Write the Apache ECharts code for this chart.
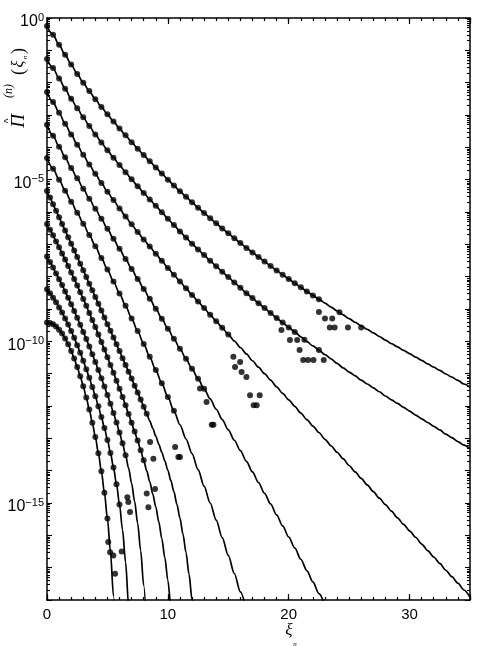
<!DOCTYPE html>
<html>
<head>
<meta charset="utf-8">
<script src="https://cdn.jsdelivr.net/npm/echarts@6/dist/echarts.min.js"></script>
<style>
    html, body { margin: 0; padding: 0; background: #fff; }
    #container { width: 477px; height: 647px; }
</style>
</head>
<body>
<div id="container"></div>
<script>
var c1 = [-0.25,-0.52,-0.83,-1.14,-1.44,-1.73,-2.0,-2.26,-2.51,-2.75,-2.98,
    -3.2,-3.42,-3.63,-3.84,-4.04,-4.24,-4.43,-4.62,-4.81,-5.0,
    -5.18,-5.36,-5.53,-5.7,-5.87,-6.03,-6.19,-6.35,-6.51,-6.66,
    -6.81,-6.96,-7.11,-7.25,-7.39,-7.53,-7.67,-7.81,-7.94,-8.07,
    -8.2,-8.33,-8.46,-8.58,-8.7,-8.82,-8.94,-9.06,-9.18,-9.3,
    -9.41,-9.52,-9.63,-9.74,-9.85,-9.96,-10.07,-10.17,-10.28,-10.38,
    -10.49,-10.59,-10.7,-10.8,-10.9,-11.01,-11.11,-11.21,-11.32,-11.42];
var c2 = [-1.27,-1.55,-1.87,-2.19,-2.5,-2.79,-3.07,-3.34,-3.6,-3.85,-4.09,
    -4.32,-4.55,-4.77,-4.99,-5.2,-5.41,-5.61,-5.81,-6.01,-6.21,
    -6.4,-6.6,-6.79,-6.98,-7.16,-7.33,-7.51,-7.68,-7.85,-8.01,
    -8.18,-8.34,-8.51,-8.66,-8.82,-8.97,-9.12,-9.28,-9.42,-9.57,
    -9.71,-9.86,-10.01,-10.14,-10.27,-10.41,-10.54,-10.68,-10.82,-10.95,
    -11.07,-11.2,-11.32,-11.44,-11.56,-11.69,-11.81,-11.92,-12.04,-12.16,
    -12.28,-12.4,-12.51,-12.63,-12.74,-12.87,-12.98,-13.1,-13.21,-13.33];
var c3 = [-2.29,-2.6,-2.93,-3.27,-3.6,-3.92,-4.23,-4.53,-4.82,-5.1,-5.37,
    -5.63,-5.89,-6.14,-6.38,-6.62,-6.85,-7.07,-7.29,-7.51,-7.73,
    -7.94,-8.15,-8.36,-8.57,-8.77,-8.97,-9.18,-9.38,-9.58,-9.79,
    -9.99,-10.19,-10.39,-10.6,-10.8,-11.0,-11.2,-11.41,-11.61,-11.81,
    -12.01,-12.22,-12.42,-12.62,-12.82,-13.03,-13.23,-13.43,-13.63,-13.84,
    -14.04,-14.24,-14.44,-14.65,-14.85,-15.05,-15.25,-15.46,-15.66,-15.86,
    -16.06,-16.27,-16.47,-16.67,-16.87,-17.08,-17.28,-17.48,-17.69,-17.92];
var c4 = [-3.3,-3.64,-3.98,-4.31,-4.64,-4.96,-5.28,-5.59,-5.9,-6.21,-6.52,
    -6.83,-7.14,-7.45,-7.76,-8.07,-8.38,-8.68,-8.99,-9.3,-9.61,
    -9.92,-10.23,-10.54,-10.85,-11.16,-11.47,-11.78,-12.1,-12.42,-12.74,
    -13.06,-13.38,-13.71,-14.04,-14.37,-14.7,-15.03,-15.37,-15.71,-16.05,
    -16.39,-16.74,-17.09,-17.44,-17.8,-18.16];
var c5 = [-4.33,-4.66,-5.0,-5.34,-5.68,-6.02,-6.36,-6.71,-7.06,-7.42,-7.78,
    -8.15,-8.52,-8.9,-9.29,-9.68,-10.08,-10.48,-10.89,-11.3,-11.72,
    -12.15,-12.58,-13.02,-13.47,-13.97,-14.48,-15.0,-15.53,-16.07,-16.62,
    -17.18,-17.75,-18.33];
var c6 = [-5.35,-5.55,-5.76,-5.96,-6.16,-6.37,-6.57,-6.78,-6.98,-7.19,-7.39,-7.6,
    -7.8,-8.01,-8.22,-8.42,-8.63,-8.84,-9.05,-9.26,-9.47,-9.67,-9.88,-10.09,
    -10.3,-10.52,-10.73,-10.94,-11.15,-11.37,-11.58,-11.8,-12.02,-12.24,-12.46,-12.69,
    -12.93,-13.18,-13.43,-13.7,-13.99,-14.31,-14.65,-15.04,-15.47,-15.96,-16.53,-17.2,
    -17.99,-18.92];
var c7 = [-6.37,-6.55,-6.72,-6.91,-7.09,-7.28,-7.47,-7.67,-7.87,-8.07,-8.27,-8.48,
    -8.69,-8.9,-9.12,-9.34,-9.56,-9.79,-10.02,-10.25,-10.49,-10.73,-10.97,-11.22,
    -11.47,-11.72,-11.98,-12.25,-12.52,-12.79,-13.07,-13.37,-13.68,-14.0,-14.34,-14.72,
    -15.12,-15.58,-16.1,-16.69,-17.39,-18.21,-19.19];
var c8 = [-7.38,-7.55,-7.72,-7.9,-8.08,-8.26,-8.46,-8.65,-8.85,-9.06,-9.27,-9.49,
    -9.71,-9.93,-10.16,-10.4,-10.64,-10.89,-11.14,-11.4,-11.66,-11.93,-12.22,-12.51,
    -12.82,-13.15,-13.52,-13.92,-14.39,-14.95,-15.63,-16.47,-17.55,-18.94];
var c9 = [-8.39,-8.51,-8.65,-8.79,-8.95,-9.11,-9.29,-9.48,-9.68,-9.89,-10.12,-10.35,
    -10.6,-10.86,-11.13,-11.41,-11.7,-12.01,-12.34,-12.68,-13.05,-13.45,-13.9,-14.42,
    -15.05,-15.83,-16.83,-18.15,-19.95];
var c10 = [-9.42,-9.43,-9.47,-9.54,-9.64,-9.76,-9.91,-10.09,-10.3,-10.53,-10.79,-11.08,
    -11.39,-11.74,-12.11,-12.52,-12.96,-13.46,-14.02,-14.68,-15.48,-16.51,-17.88,-19.8];

var xiStep = [0.5, 0.5, 0.5, 0.5, 0.5, 0.25, 0.25, 0.25, 0.25, 0.25];
// how many leading samples of each curve carry a data dot
var dotCount = [46, 42, 31, 27, 22, 34, 33, 27, 25, 21];

// scattered dots off the tails, [xi, log10 value]
var noise1 = [[22.5,-9.09],[23.0,-9.29],[23.6,-9.29],[23.4,-9.57],[23.8,-9.57],[24.9,-9.57],[26.0,-9.57],[24.2,-9.1]];
var noise2 = [[19.4,-9.65],[20.1,-9.96],[20.7,-9.96],[20.9,-10.27],[21.2,-10.58],[21.6,-10.58],[22.05,-10.58],[22.9,-10.58],[22.5,-10.27],[21.3,-9.95]];
var noise3 = [[15.42,-10.48],[15.56,-10.79],[15.98,-10.64],[16.1,-10.95],[16.5,-11.1],[16.8,-11.67],[17.6,-11.67],[17.1,-11.98],[17.35,-11.98]];
var noise4 = [[12.66,-11.46],[13.2,-11.88],[13.63,-12.58],[13.77,-12.58]];
var noise5 = [[10.6,-13.27],[10.87,-13.58],[11.0,-13.58]];
var noise6 = [[8.53,-13.11],[8.8,-13.63],[8.94,-14.57]];
var noise7 = [[8.25,-14.71],[8.39,-15.13]];
var noise8 = [[6.65,-14.82],[6.73,-14.97],[6.87,-15.28]];
var noise9 = [[6.18,-16.5]];
var noise10 = [[5.07,-16.21],[5.22,-16.52],[5.49,-16.62],[5.63,-17.19]];

var xTickLabels = [0, 10, 20, 30];
var yTickLabels = [0, -5, -10, -15];

var curves = [c1, c2, c3, c4, c5, c6, c7, c8, c9, c10];
var noise = [noise1, noise2, noise3, noise4, noise5, noise6, noise7, noise8, noise9, noise10];

var dom = document.getElementById("container");
var myChart = echarts.init(dom, null, {renderer: 'canvas'});

// log-spaced minor tick positions (2..9 x 10^k)
var logMinor = [];
for (var k = -18; k < 0; k++) {
    for (var m = 2; m <= 9; m++) {
        logMinor.push(k + Math.log10(m));
    }
}

var black = '#000';
var sansFont = '"Liberation Sans", Arial, sans-serif';
var serifFont = '"Liberation Serif", "DejaVu Serif", serif';

function xAxisDef(position, interval, len, withLine, withLabel) {
    return {
        type: 'value', min: 0, max: 35, interval: interval, position: position,
        axisLine: {show: withLine, onZero: false, lineStyle: {color: black, width: 1.5}},
        axisTick: {show: true, inside: true, length: len, lineStyle: {color: black, width: 1.2}},
        axisLabel: {
            show: withLabel, color: black, fontSize: 15, fontFamily: sansFont, margin: 7,
            formatter: function (v) { return xTickLabels.indexOf(v) >= 0 ? String(v) : ''; }
        },
        splitLine: {show: false}
    };
}

function yAxisDef(position, major, withLine, withLabel) {
    var ax = {
        type: 'value', min: -18, max: 0, position: position,
        axisLine: {show: withLine, onZero: false, lineStyle: {color: black, width: 1.5}},
        axisTick: {show: true, inside: true, length: major ? 5 : 3, lineStyle: {color: black, width: 1.1}},
        axisLabel: {
            show: withLabel, margin: 3, padding: [6, 0, 0, 0],
            formatter: function (v) {
                if (yTickLabels.indexOf(v) < 0) return '';
                var e = v === 0 ? '0' : '\u2212' + Math.abs(v);
                return '{b|10}{s|' + e + '}';
            },
            rich: {
                b: {fontSize: 16, fontFamily: sansFont, color: black, lineHeight: 18, verticalAlign: 'bottom'},
                s: {fontSize: 11, fontFamily: sansFont, color: black, lineHeight: 12, verticalAlign: 'top'}
            }
        },
        splitLine: {show: false}
    };
    if (major) {
        ax.interval = 1;
    } else {
        ax.axisTick.customValues = logMinor;
    }
    return ax;
}

var series = [];
curves.forEach(function (vals, n) {
    var pts = vals.map(function (v, i) { return [i * xiStep[n], v]; });
    series.push({
        type: 'line', data: pts, xAxisIndex: 0, yAxisIndex: 0,
        smooth: 0.3, smoothMonotone: 'x', showSymbol: false, symbol: 'none',
        lineStyle: {color: black, width: 1.7}, silent: true, z: 2
    });
    series.push({
        type: 'scatter', data: pts.slice(0, dotCount[n]).concat(noise[n]), xAxisIndex: 0, yAxisIndex: 0,
        symbol: 'circle', symbolSize: 6, itemStyle: {color: black}, silent: true, z: 3
    });
});

function txt(x, y, s, font) {
    return {type: 'text', x: x, y: y, style: {text: s, font: font, fill: black,
        textAlign: 'center', textVerticalAlign: 'middle', align: 'center', verticalAlign: 'middle'}};
}

option = {
    animation: false,
    backgroundColor: '#fff',
    grid: {left: 47, right: 7, top: 18, bottom: 47, containLabel: false},
    xAxis: [
        xAxisDef('bottom', 10, 6, true, true),
        xAxisDef('bottom', 1, 3, false, false),
        xAxisDef('top', 10, 6, true, false),
        xAxisDef('top', 1, 3, false, false)
    ],
    yAxis: [
        yAxisDef('left', true, true, true),
        yAxisDef('left', false, false, false),
        yAxisDef('right', true, true, false),
        yAxisDef('right', false, false, false)
    ],
    graphic: [
        {
            type: 'group', x: 20, y: 131, rotation: Math.PI / 2,
            children: [
                txt(10, -1, '\u03A0', 'italic 19px ' + serifFont),
                txt(10, -11, '^', '10px ' + sansFont),
                txt(40, -11, '(n)', 'italic 12px ' + serifFont),
                txt(59, -1, '(', '18px ' + serifFont),
                txt(67, -1, '\u03BE', 'italic 16px ' + serifFont),
                txt(73.5, 5, 'n', 'italic 7px ' + serifFont),
                txt(80, -1, ')', '18px ' + serifFont)
            ]
        },
        txt(289, 631, '\u03BE', 'italic 17px ' + serifFont),
        txt(295, 644, 'n', 'italic 7px ' + serifFont)
    ],
    series: series
};

if (option && typeof option === "object") {
    myChart.setOption(option, true);
}
</script>
</body>
</html>
